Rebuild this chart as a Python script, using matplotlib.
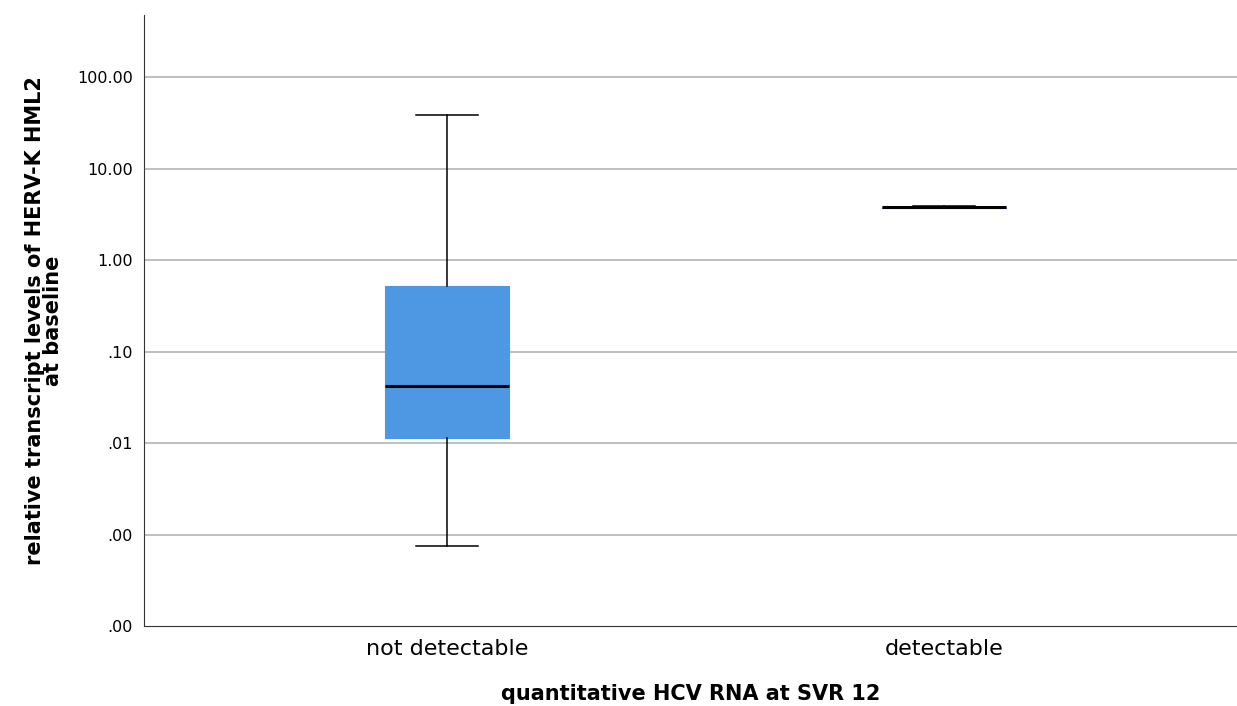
import matplotlib.pyplot as plt
from matplotlib.ticker import FixedLocator, FixedFormatter

# values (log scale)
groups = ["not detectable", "detectable"]
whisker_low = [0.00074, 3.76]
q1 = [0.0113, 3.72]
medians = [0.0425, 3.78]
q3 = [0.52, 3.82]
whisker_high = [38.5, 3.9]

tick_values = [1e-4, 1e-3, 1e-2, 1e-1, 1, 10, 100]
tick_labels = [".00", ".00", ".01", ".10", "1.00", "10.00", "100.00"]

stats = []
for i, name in enumerate(groups):
    stats.append({"label": name, "whislo": whisker_low[i], "q1": q1[i],
                  "med": medians[i], "q3": q3[i], "whishi": whisker_high[i]})

fig = plt.figure(figsize=(12.37, 7.06), dpi=100)
ax = fig.add_axes([0.1164, 0.1133, 0.8836, 0.8655])

ax.set_yscale("log")
ax.set_ylim(1e-4, 10 ** 2.68)
ax.set_xlim(-0.609, 1.589)

for v in tick_values[1:]:
    ax.axhline(v, color="#b4b4b4", lw=1.2, zorder=0)

ax.bxp(stats, positions=[0, 1], widths=0.25, patch_artist=True,
       showfliers=False,
       boxprops=dict(facecolor="#4e97e3", edgecolor="#4e97e3", lw=0.8),
       medianprops=dict(color="black", lw=2.2),
       whiskerprops=dict(color="black", lw=1.1),
       capprops=dict(color="black", lw=1.1),
       capwidths=0.125)

ax.yaxis.set_major_locator(FixedLocator(tick_values))
ax.yaxis.set_major_formatter(FixedFormatter(tick_labels))
ax.yaxis.set_minor_locator(FixedLocator([]))
ax.tick_params(axis="y", labelsize=11.5, length=0, pad=8)
ax.tick_params(axis="x", labelsize=16, length=0, pad=9)
ax.set_xticks([0, 1])
ax.set_xticklabels(groups)

for s in ["top", "right"]:
    ax.spines[s].set_visible(False)
ax.spines["left"].set_color("#333333")
ax.spines["bottom"].set_color("#333333")

ax.set_ylabel("relative transcript levels of HERV-K HML2\nat baseline",
              fontsize=15, fontweight="bold", labelpad=10, linespacing=0.9)
ax.set_xlabel("quantitative HCV RNA at SVR 12", fontsize=15,
              fontweight="bold", labelpad=18)

fig.savefig("out.png", dpi=100)
